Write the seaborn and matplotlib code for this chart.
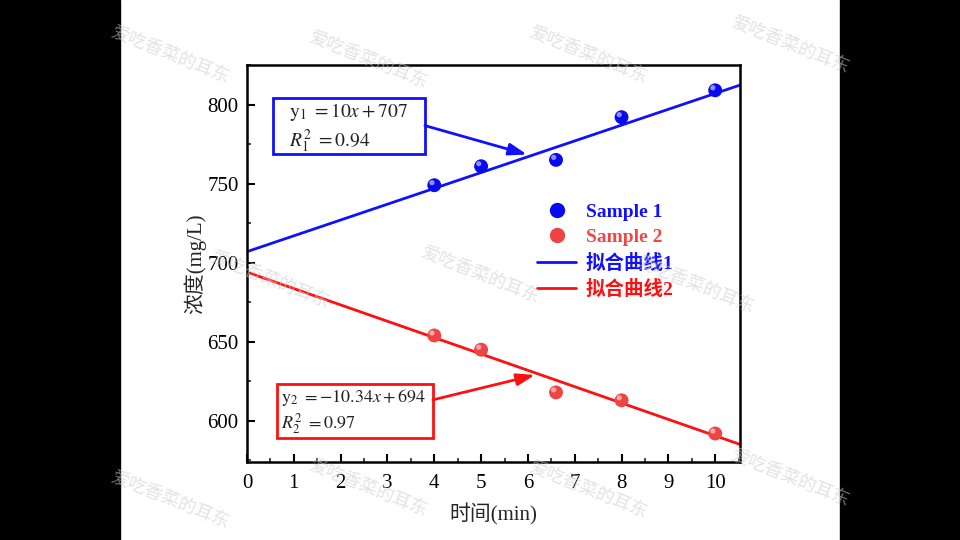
import matplotlib
matplotlib.use("Agg")
import matplotlib.pyplot as plt
import seaborn as sns
import pandas as pd
import numpy as np
from matplotlib.patches import Rectangle
from matplotlib.lines import Line2D
from matplotlib.ticker import MultipleLocator

# ---- data ----
time_min = [4, 5, 6.6, 8, 10]
sample1 = [749, 761, 765, 792, 809]
sample2 = [654, 645, 618, 613, 592]
fit1 = (10.0, 707.0)      # slope, intercept
fit2 = (-10.34, 694.0)
r2_1 = 0.94
r2_2 = 0.97
series_names = ["Sample 1", "Sample 2", "拟合曲线1", "拟合曲线2"]
x_label = "时间(min)"
y_label = "浓度(mg/L)"
watermark = "爱吃香菜的耳东"

sns.set_theme(style="ticks")
plt.rcParams["font.family"] = ["Liberation Serif", "Noto Sans CJK SC", "DejaVu Sans"]
plt.rcParams["mathtext.fontset"] = "stix"

BLUE = "#1010ff"
RED = "#ff1010"

fig = plt.figure(figsize=(9.6, 5.4), dpi=100, facecolor="white")
fig.patches.append(Rectangle((0, 0), 120 / 960, 1, transform=fig.transFigure, color="black", zorder=-10))
fig.patches.append(Rectangle((840 / 960, 0), 120 / 960, 1, transform=fig.transFigure, color="black", zorder=-10))

ax = fig.add_axes([247 / 960, 1 - 462 / 540, (740 - 247) / 960, (462 - 65) / 540])

xmin, xmax = 0, 10.53
xs = np.array([xmin, xmax])
df_pts = pd.DataFrame({"t": time_min * 2,
                       "c": sample1 + sample2,
                       "s": ["Sample 1"] * len(time_min) + ["Sample 2"] * len(time_min)})
df_fit = pd.DataFrame({"t": list(xs) * 2,
                       "c": list(fit1[0] * xs + fit1[1]) + list(fit2[0] * xs + fit2[1]),
                       "s": ["拟合曲线1"] * 2 + ["拟合曲线2"] * 2})

sns.lineplot(data=df_fit, x="t", y="c", hue="s", palette={"拟合曲线1": BLUE, "拟合曲线2": RED},
             linewidth=2, ax=ax, legend=False, zorder=2)
sns.scatterplot(data=df_pts, x="t", y="c", hue="s", palette={"Sample 1": "#0a0af0", "Sample 2": "#ee4444"},
                s=100, edgecolor="none", ax=ax, legend=False, zorder=3)
ax.scatter([t - 0.05 for t in time_min] * 2, [v + 1.6 for v in sample1 + sample2], s=14,
           color="white", alpha=0.55, edgecolor="none", zorder=4)

ax.set_xlim(xmin, xmax)
ax.set_ylim(574, 825)
ax.xaxis.set_major_locator(MultipleLocator(1))
ax.xaxis.set_minor_locator(MultipleLocator(0.5))
ax.yaxis.set_major_locator(MultipleLocator(50))
ax.yaxis.set_minor_locator(MultipleLocator(25))
ax.tick_params(which="major", direction="in", length=6, width=1.5, labelsize=15, colors="black")
ax.tick_params(axis="x", which="major", pad=9)
ax.tick_params(axis="y", which="major", pad=6)
ax.tick_params(which="minor", direction="in", length=3, width=1.2)
for sp in ax.spines.values():
    sp.set_linewidth(1.8)
    sp.set_color("black")
ax.set_xlabel(x_label, fontsize=15, labelpad=7)
ax.set_ylabel(y_label, fontsize=15, labelpad=1)

# annotation boxes (data coords)
ax.add_patch(Rectangle((0.556, 769.0), 3.80 - 0.556, 804.4 - 769.0, fc="white", ec=BLUE, lw=2, zorder=5))
ax.text(0.89, 795.5, r"$\mathrm{y}_1\ =10x+707$", fontsize=14, va="center", ha="left", color="#222222", zorder=6)
ax.text(0.89, 776.5, r"$R_1^2\ =0.94$", fontsize=14, va="center", ha="left", color="#222222", zorder=6)
ax.annotate("", xy=(5.98, 768.4), xytext=(3.80, 786.7),
            arrowprops=dict(arrowstyle="-|>,head_length=0.9,head_width=0.3", color=BLUE, lw=2,
                            shrinkA=0, shrinkB=0), zorder=5)

ax.add_patch(Rectangle((0.641, 589.2), 3.97 - 0.641, 623.4 - 589.2, fc="white", ec=RED, lw=2, zorder=5))
ax.text(0.72, 615.0, r"$\mathrm{y}_2\ =-10.34x+694$", fontsize=13, va="center", ha="left", color="#222222", zorder=6)
ax.text(0.72, 598.0, r"$R_2^2\ =0.97$", fontsize=13, va="center", ha="left", color="#222222", zorder=6)
ax.annotate("", xy=(6.15, 629.0), xytext=(3.97, 613.3),
            arrowprops=dict(arrowstyle="-|>,head_length=0.9,head_width=0.3", color=RED, lw=2,
                            shrinkA=0, shrinkB=0), zorder=5)

# legend
handles = [Line2D([], [], marker="o", ls="none", color="#0a0af0", markersize=10),
           Line2D([], [], marker="o", ls="none", color="#ee4444", markersize=10),
           Line2D([], [], color=BLUE, lw=2),
           Line2D([], [], color=RED, lw=2)]
leg = ax.legend(handles, series_names, loc="center left", bbox_to_anchor=(0.553, 0.531),
                frameon=False, prop={"weight": "bold", "size": 14}, handlelength=2.0,
                labelspacing=0.38, handletextpad=0.5)
for txt, c in zip(leg.get_texts(), [BLUE, "#f04848", BLUE, RED]):
    txt.set_color(c)

# watermark
wm_pos = [(170, 55), (368, 60), (588, 55), (790, 45),
          (480, 275), (695, 285), (270, 280),
          (170, 500), (368, 488), (588, 490), (790, 478)]
for px, py in wm_pos:
    fig.text(px / 960, 1 - py / 540, watermark, fontsize=13, color="#cccccc", alpha=0.55,
             rotation=-22, ha="center", va="center", family=["Noto Sans CJK SC"], zorder=20)

fig.savefig("out.png", dpi=100, facecolor="white")
